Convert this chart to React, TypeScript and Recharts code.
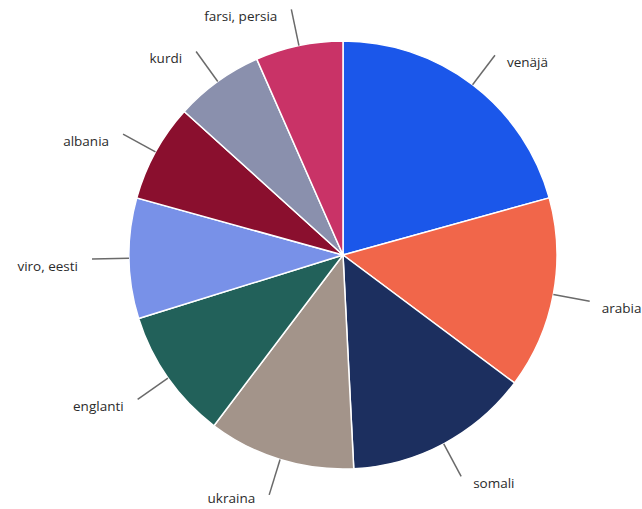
import React from 'react';
import { PieChart, Pie, Cell } from 'recharts';

// Kieli-jakauma (osuudet, %), luettu kuvasta
const languages = ['venäjä', 'arabia', 'somali', 'ukraina', 'englanti', 'viro, eesti', 'albania', 'kurdi', 'farsi, persia'];
const shares = [20.7, 14.5, 14.0, 11.1, 9.9, 9.1, 7.4, 6.7, 6.6];
const colors = ['#1b57ea', '#f1664a', '#1c2f5f', '#a3948a', '#22615a', '#7891e8', '#8a0f2e', '#8a90ad', '#c93367'];

const data = languages.map((name, i) => ({ name, value: shares[i] }));

const RAD = Math.PI / 180;

const renderLabel = (props: any) => {
  const { cx, cy, midAngle, outerRadius, name } = props;
  const cos = Math.cos(-midAngle * RAD);
  const sin = Math.sin(-midAngle * RAD);
  const sx = cx + outerRadius * cos;
  const sy = cy + outerRadius * sin;
  const ex = cx + (outerRadius + 37) * cos;
  const ey = cy + (outerRadius + 37) * sin;
  const right = cos >= 0;
  // keep the bottom label inside the picture
  const ty = Math.min(ey + 7, 498);
  return (
    <g>
      <line x1={sx} y1={sy} x2={ex} y2={ey} stroke="#6a6a6a" strokeWidth={1.5} />
      <text
        x={ex + (right ? 12 : -14)}
        y={ty}
        textAnchor={right ? 'start' : 'end'}
        dominantBaseline="central"
        fill="#2b2b2b"
        fontSize={13.5}
        fontFamily="'Open Sans', sans-serif"
      >
        {name}
      </text>
    </g>
  );
};

export default function App() {
  return (
    <div style={{ position: 'absolute', left: 0, top: 0, width: 642, height: 509, background: '#fff' }}>
      <PieChart width={642} height={509} margin={{ top: 0, right: 0, bottom: 0, left: 0 }}>
        <Pie
          data={data}
          dataKey="value"
          nameKey="name"
          cx={343}
          cy={255}
          outerRadius={214}
          startAngle={90}
          endAngle={-270}
          stroke="#ffffff"
          strokeWidth={1.5}
          label={renderLabel}
          labelLine={false}
          isAnimationActive={false}
        >
          {data.map((d, i) => (
            <Cell key={d.name} fill={colors[i]} />
          ))}
        </Pie>
      </PieChart>
    </div>
  );
}
